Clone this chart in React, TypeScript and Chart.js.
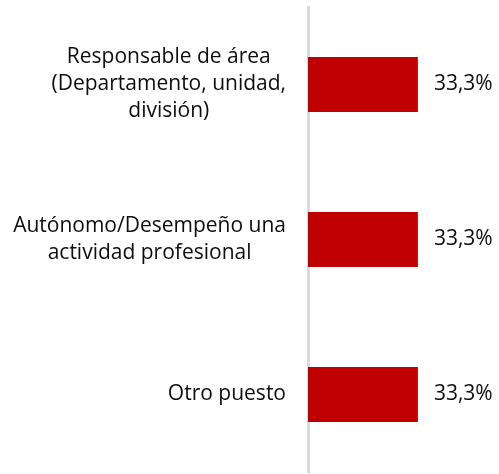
import React, { useEffect, useRef } from "react";
import { Chart, registerables } from "chart.js";

Chart.register(...registerables);

const categories: string[][] = [
  ["Responsable de área", "(Departamento, unidad,", "división)"],
  ["Autónomo/Desempeño una", "actividad profesional"],
  ["Otro puesto"],
];
const values: number[] = [33.3, 33.3, 33.3];
const valueLabels: string[] = ["33,3%", "33,3%", "33,3%"];

const FONT = "'Open Sans', sans-serif";
const FONT_SIZE = 21;

const labelPlugin = {
  id: "customLabels",
  afterDatasetsDraw(chart: any) {
    const ctx = chart.ctx;
    const yScale = chart.scales.y;
    const meta = chart.getDatasetMeta(0);
    ctx.save();
    ctx.font = `${FONT_SIZE}px ${FONT}`;
    ctx.fillStyle = "#0d0d0d";
    ctx.textBaseline = "middle";
    const lineH = 27;
    const rightEdge = 286;
    categories.forEach((lines, i) => {
      const cy = yScale.getPixelForValue(i);
      const widths = lines.map((l) => ctx.measureText(l).width);
      const blockW = Math.max(...widths);
      const centerX = rightEdge - blockW / 2;
      const startY = cy - ((lines.length - 1) * lineH) / 2;
      ctx.textAlign = "center";
      lines.forEach((l, j) => ctx.fillText(l, centerX, startY + j * lineH));
      const bar = meta.data[i];
      ctx.textAlign = "left";
      ctx.fillText(valueLabels[i], bar.x + 16, bar.y);
    });
    ctx.restore();
  },
};

export default function App() {
  const ref = useRef<HTMLCanvasElement>(null);
  useEffect(() => {
    if (!ref.current) return;
    const chart = new Chart(ref.current, {
      type: "bar",
      data: {
        labels: categories.map((c) => c.join(" ")),
        datasets: [
          {
            data: values,
            backgroundColor: "#C00000",
            barPercentage: 1,
            categoryPercentage: 0.355,
          },
        ],
      },
      options: {
        indexAxis: "y",
        animation: false,
        responsive: false,
        layout: { padding: { left: 308, right: 26, top: 7, bottom: 2 } },
        plugins: { legend: { display: false }, tooltip: { enabled: false } },
        scales: {
          x: { display: false, min: 0, max: 50 },
          y: {
            grid: { display: false, drawTicks: false },
            ticks: { display: false },
            border: { color: "#d9d9d9", width: 3 },
          },
        },
      },
      plugins: [labelPlugin],
    });
    return () => chart.destroy();
  }, []);
  return (
    <div style={{ position: "fixed", left: 0, top: 0, width: 499, height: 474, background: "#fff" }}>
      <canvas ref={ref} width={499} height={474} />
    </div>
  );
}
